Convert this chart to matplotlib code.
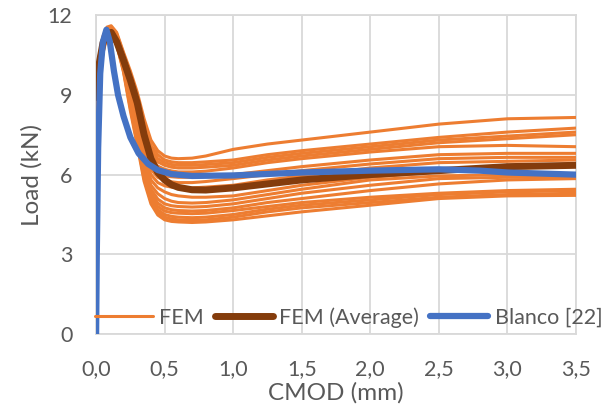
import numpy as np
import matplotlib
matplotlib.use('Agg')
import matplotlib.pyplot as plt
from matplotlib.ticker import FuncFormatter

plt.rcParams['font.family'] = ['Lato', 'DejaVu Sans']

# CMOD (mm) grid shared by the FEM curves
fem_x = [0, 0.02, 0.05, 0.08, 0.11, 0.15, 0.2, 0.25, 0.3, 0.35, 0.4, 0.45, 0.5,
         0.55, 0.6, 0.7, 0.8, 1.0, 1.25, 1.5, 2.0, 2.5, 3.0, 3.5]

# individual FEM runs, load (kN)
fem_1 = [9.2, 10.4, 11.2, 11.55, 11.6, 11.35, 10.6, 9.9, 9.1, 8.1, 7.3, 6.9, 6.7, 6.62, 6.6, 6.62, 6.7, 6.95, 7.15, 7.3, 7.6, 7.9, 8.1, 8.15]
fem_2 = [9.1, 10.3, 11.1, 11.5, 11.55, 11.3, 10.55, 9.8, 8.95, 7.9, 7.1, 6.75, 6.55, 6.48, 6.45, 6.45, 6.48, 6.55, 6.75, 6.9, 7.15, 7.4, 7.6, 7.75]
fem_3 = [9.0, 10.3, 11.1, 11.5, 11.5, 11.25, 10.5, 9.7, 8.8, 7.7, 6.95, 6.6, 6.45, 6.38, 6.35, 6.35, 6.38, 6.45, 6.65, 6.8, 7.05, 7.3, 7.45, 7.6]
fem_4 = [9.0, 10.2, 11.0, 11.45, 11.5, 11.2, 10.45, 9.6, 8.65, 7.5, 6.8, 6.48, 6.35, 6.28, 6.25, 6.25, 6.28, 6.35, 6.55, 6.7, 6.95, 7.2, 7.35, 7.5]
fem_5 = [8.9, 10.2, 11.0, 11.45, 11.5, 11.2, 10.4, 9.5, 8.5, 7.3, 6.6, 6.32, 6.2, 6.14, 6.1, 6.1, 6.13, 6.25, 6.45, 6.6, 6.85, 7.05, 7.1, 7.05]
fem_6 = [8.9, 10.1, 11.0, 11.4, 11.45, 11.15, 10.35, 9.4, 8.35, 7.1, 6.4, 6.08, 5.95, 5.92, 5.9, 5.9, 5.93, 6.0, 6.15, 6.3, 6.55, 6.75, 6.8, 6.8]
fem_7 = [8.8, 10.1, 10.9, 11.4, 11.45, 11.15, 10.3, 9.3, 8.2, 6.9, 6.2, 5.9, 5.78, 5.73, 5.7, 5.7, 5.74, 5.85, 6.0, 6.15, 6.4, 6.6, 6.65, 6.65]
fem_8 = [8.8, 10.0, 10.9, 11.35, 11.4, 11.1, 10.25, 9.2, 8.0, 6.7, 6.0, 5.7, 5.58, 5.53, 5.5, 5.5, 5.53, 5.6, 5.8, 5.95, 6.25, 6.45, 6.5, 6.55]
fem_9 = [8.8, 10.0, 10.9, 11.35, 11.4, 11.1, 10.2, 9.1, 7.9, 6.55, 5.8, 5.5, 5.35, 5.25, 5.2, 5.15, 5.15, 5.2, 5.4, 5.6, 5.9, 6.1, 6.25, 6.4]
fem_10 = [8.7, 10.0, 10.8, 11.3, 11.35, 11.05, 10.15, 9.0, 7.75, 6.4, 5.6, 5.28, 5.1, 5.0, 4.95, 4.93, 4.95, 5.05, 5.25, 5.45, 5.8, 5.95, 6.0, 6.0]
fem_11 = [8.7, 9.9, 10.8, 11.3, 11.35, 11.0, 10.1, 8.9, 7.6, 6.25, 5.45, 5.08, 4.9, 4.83, 4.8, 4.78, 4.8, 4.9, 5.1, 5.3, 5.6, 5.85, 5.9, 5.9]
fem_12 = [8.6, 9.9, 10.8, 11.25, 11.3, 11.0, 10.05, 8.8, 7.5, 6.15, 5.3, 4.93, 4.75, 4.68, 4.65, 4.63, 4.65, 4.75, 4.95, 5.1, 5.4, 5.65, 5.8, 5.85]
fem_13 = [8.6, 9.8, 10.7, 11.25, 11.3, 10.95, 10.0, 8.7, 7.4, 6.05, 5.2, 4.8, 4.63, 4.57, 4.55, 4.53, 4.55, 4.65, 4.8, 4.95, 5.15, 5.3, 5.4, 5.45]
fem_14 = [8.5, 9.8, 10.7, 11.2, 11.25, 10.95, 9.95, 8.6, 7.3, 5.95, 5.1, 4.68, 4.5, 4.43, 4.4, 4.38, 4.4, 4.5, 4.7, 4.85, 5.05, 5.25, 5.35, 5.4]
fem_15 = [8.5, 9.7, 10.7, 11.2, 11.25, 10.9, 9.9, 8.5, 7.2, 5.85, 5.0, 4.58, 4.4, 4.33, 4.3, 4.28, 4.3, 4.4, 4.6, 4.75, 4.95, 5.15, 5.25, 5.3]
fem_16 = [8.4, 9.7, 10.6, 11.15, 11.2, 10.9, 9.85, 8.4, 7.1, 5.75, 4.9, 4.48, 4.3, 4.24, 4.22, 4.2, 4.22, 4.3, 4.45, 4.6, 4.85, 5.1, 5.2, 5.22]
fem_runs = [fem_1, fem_2, fem_3, fem_4, fem_5, fem_6, fem_7, fem_8,
            fem_9, fem_10, fem_11, fem_12, fem_13, fem_14, fem_15, fem_16]

# FEM average
avg_y = [8.9, 10.1, 10.95, 11.3, 11.35, 11.0, 10.3, 9.55, 8.7, 7.5, 6.6, 6.08, 5.8, 5.62, 5.52, 5.43, 5.42, 5.5, 5.65, 5.8, 6.0, 6.15, 6.3, 6.35]

# experimental (Blanco [22])
blanco_x = [0, 0.005, 0.015, 0.03, 0.05, 0.075, 0.1, 0.13, 0.16, 0.2, 0.25, 0.31,
            0.38, 0.45, 0.55, 0.7, 1.0, 1.5, 2.0, 2.5, 2.8, 3.0, 3.5]
blanco_y = [0, 3.0, 7.0, 9.8, 11.0, 11.45, 11.0, 9.9, 9.0, 8.2, 7.4, 6.8,
            6.4, 6.17, 6.02, 5.95, 5.97, 6.08, 6.15, 6.2, 6.15, 6.08, 6.0]

orange = '#ED7D31'
brown = '#843C0C'
blue = '#4472C4'
txt = '#595959'
grid_c = '#D9D9D9'

fig = plt.figure(figsize=(6.16, 4.08), dpi=100)
ax = fig.add_axes([0.156, 0.181, 0.779, 0.782])

for i, run in enumerate(fem_runs):
    ax.plot(fem_x, run, color=orange, lw=2.2, solid_capstyle='round',
            solid_joinstyle='round', label='FEM' if i == 0 else None, zorder=3)
ax.plot(fem_x, avg_y, color=brown, lw=5, solid_capstyle='round',
        solid_joinstyle='round', label='FEM (Average)', zorder=4)
ax.plot(blanco_x, blanco_y, color=blue, lw=4.5, solid_capstyle='round',
        solid_joinstyle='round', label='Blanco [22]', zorder=5)

ax.set_xlim(0, 3.5)
ax.set_ylim(0, 12)
ax.set_xticks(np.arange(0, 3.51, 0.5))
ax.set_yticks([0, 3, 6, 9, 12])
ax.xaxis.set_major_formatter(FuncFormatter(lambda v, p: f'{v:.1f}'.replace('.', ',')))
ax.grid(True, color=grid_c, lw=1.3, zorder=0)
for s in ax.spines.values():
    s.set_color(grid_c)
    s.set_linewidth(1.3)
ax.tick_params(length=0, labelsize=15.5, labelcolor=txt)
ax.tick_params(axis='x', pad=18)
ax.tick_params(axis='y', pad=17)
ax.set_xlabel('CMOD (mm)', fontsize=17.5, color=txt, labelpad=2)
ax.set_ylabel('Load (kN)', fontsize=17.5, color=txt, labelpad=4)

leg = ax.legend(loc='lower left', bbox_to_anchor=(-0.003, 0.02), ncol=3,
                frameon=False, fontsize=15.5, handlelength=2.7,
                handletextpad=0.3, columnspacing=0.5, borderaxespad=0,
                borderpad=0)
for t in leg.get_texts():
    t.set_color(txt)

fig.savefig('out.png', dpi=100)
